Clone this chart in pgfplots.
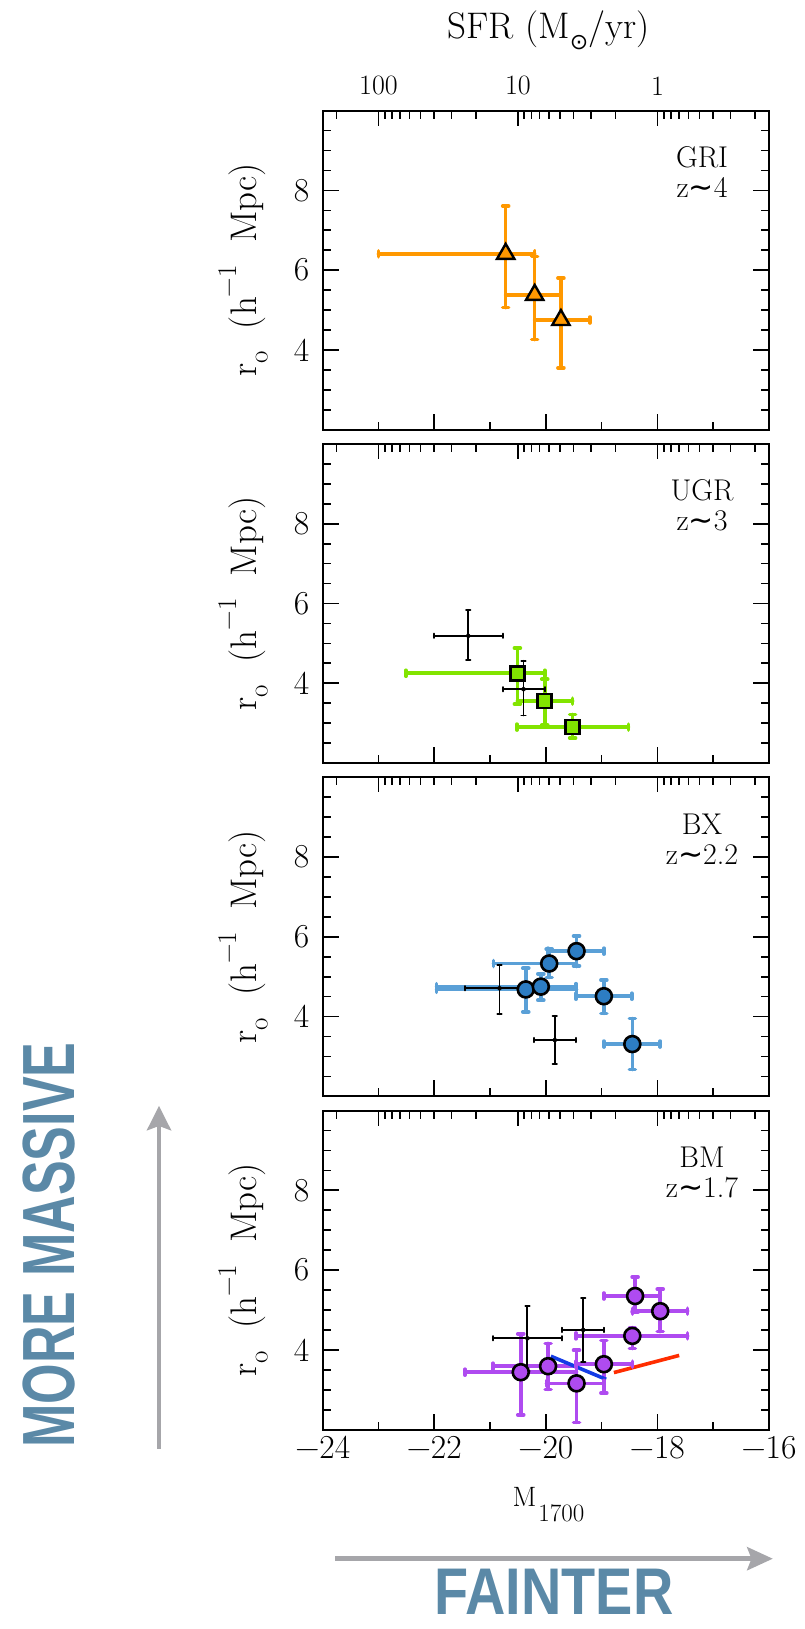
\documentclass[border=0pt]{standalone}
\usepackage{pgfplots}
\pgfplotsset{compat=1.18}
\usepackage{pgfplotstable}
\usepackage{fontspec}
\usepackage{graphicx}
\newfontfamily\dejavu{DejaVu Sans}
\newfontfamily\libsans{Liberation Sans}
\definecolor{orangeC}{RGB}{255,152,0}
\definecolor{greenC}{RGB}{130,228,0}
\definecolor{blueBar}{RGB}{90,160,215}
\definecolor{blueFill}{RGB}{45,125,195}
\definecolor{purpC}{RGB}{175,75,240}
\definecolor{lineBlue}{RGB}{20,60,230}
\definecolor{lineRed}{RGB}{255,45,0}
\definecolor{steel}{RGB}{91,137,167}
\definecolor{arrowgray}{RGB}{166,166,170}

% x y xm xp ym yp
\pgfplotstableread{
x y xm xp ym yp
-20.72 6.41 2.28 0.52 1.35 1.20
-20.20 5.38 0.52 0.47 1.12 0.96
-19.73 4.75 0.47 0.52 1.20 1.05
}\gri
\pgfplotstableread{
x y xm xp ym yp
-20.51 4.25 2.00 0.49 0.77 0.63
-20.02 3.55 0.49 0.50 0.60 0.55
-19.52 2.90 1.00 1.00 0.27 0.32
}\ugr
\pgfplotstableread{
x y xm xp ym yp
-21.39 5.19 0.62 0.62 0.60 0.65
-20.40 3.85 0.37 0.38 0.66 0.71
}\ugrK
\pgfplotstableread{
x y xm xp ym yp
-20.36 4.68 1.60 0.91 0.56 0.53
-20.09 4.75 1.87 0.63 0.34 0.32
-19.94 5.33 1.00 0.49 0.35 0.36
-19.45 5.64 0.51 0.49 0.37 0.38
-18.96 4.51 0.50 0.50 0.43 0.41
-18.45 3.31 0.51 0.50 0.64 0.64
}\bx
\pgfplotstableread{
x y xm xp ym yp
-20.83 4.71 0.62 0.46 0.65 0.58
-19.84 3.41 0.37 0.38 0.59 0.61
}\bxK
\pgfplotstableread{
x y xm xp ym yp
-20.45 3.44 1.00 1.00 1.07 0.96
-19.96 3.59 0.99 0.51 0.58 0.57
-19.45 3.16 0.54 0.49 0.98 0.83
-18.96 3.64 0.50 0.51 0.72 0.59
-18.45 4.35 1.01 0.99 0.32 0.21
-18.40 5.35 0.56 0.45 0.40 0.48
-17.95 4.97 0.50 0.49 0.51 0.55
}\bm
\pgfplotstableread{
x y xm xp ym yp
-20.33 4.29 0.62 0.62 0.81 0.81
-19.33 4.50 0.38 0.37 0.80 0.79
}\bmK
\pgfplotstableread{
x y
-19.91 3.84
-18.92 3.26
}\bline
\pgfplotstableread{
x y
-18.78 3.43
-17.61 3.86
}\rline

\pgfplotsset{
 panel/.style={scale only axis, width=446.3pt, height=319pt, anchor=south west,
   xmin=-24, xmax=-16, ymin=2, ymax=10,
   axis line style={line width=1.9pt},
   tick style={line width=1.7pt, black},
   xtick={-24,-22,-20,-18,-16}, minor xtick={-23,-21,-19,-17},
   ytick={4,6,8}, yticklabels={4,6,8}, minor ytick={2.5,3,...,9.5},
   xtick pos=left, ytick pos=both, yticklabel pos=left,
   tick align=inside, major tick length=16pt, minor tick length=8pt,
   xticklabels={},
   yticklabel style={font=\fontsize{33.5}{34}\selectfont, xshift=-10pt},
   clip=false},
 toppanel/.style={scale only axis, width=446.3pt, height=319pt, anchor=south west,
   x dir=reverse, xmin=0.158489, xmax=251.189, ymin=2, ymax=10,
   axis x line*=top, axis y line=none,
   axis line style={line width=1.9pt},
   tick style={line width=1.7pt, black},
   xtick={1,10,100},
   minor xtick={0.2,0.3,0.4,0.5,0.6,0.7,0.8,0.9,2,3,4,5,6,7,8,9,20,30,40,50,60,70,80,90,200},
   tick align=inside, major tick length=15pt, minor tick length=8pt,
   xticklabels={}},
 ebar/.style n args={2}{only marks, mark=none,
   error bars/.cd, x dir=both, x explicit, y dir=both, y explicit,
   error bar style={line width=#2, color=#1, line cap=round}},
}
\tikzset{lbl/.style={font=\fontsize{30}{31}\selectfont, anchor=base}}

% error bars + end caps (caps placed at the error-bar ends taken from the table columns)
\newcommand{\errbars}[4]{%
 \addplot[ebar={#2}{#3}] table[x=x, y=y, x error plus=xp, x error minus=xm, y error plus=yp, y error minus=ym]{#1};
 \addplot[only marks, mark=|, mark size=#4, mark options={draw=#2, line width=#3, line cap=round}] table[x expr=\thisrow{x}-\thisrow{xm}, y=y]{#1};
 \addplot[only marks, mark=|, mark size=#4, mark options={draw=#2, line width=#3, line cap=round}] table[x expr=\thisrow{x}+\thisrow{xp}, y=y]{#1};
 \addplot[only marks, mark=-, mark size=#4, mark options={draw=#2, line width=#3, line cap=round}] table[x=x, y expr=\thisrow{y}-\thisrow{ym}]{#1};
 \addplot[only marks, mark=-, mark size=#4, mark options={draw=#2, line width=#3, line cap=round}] table[x=x, y expr=\thisrow{y}+\thisrow{yp}]{#1};
}

\begin{document}
\begin{tikzpicture}[x=1pt,y=1pt]
\useasboundingbox (0,0) rectangle (805,1629);

% ---------- panel 1 : GRI
\begin{axis}[panel, at={(322.7pt,1199.3pt)}]
 \errbars{\gri}{orangeC}{3.6pt}{3pt}
 \addplot[only marks, mark=triangle*, mark size=10pt, mark options={fill=orangeC, draw=black, line width=2.4pt}] table[x=x,y=y]{\gri};
 \node[lbl] at (axis cs:-17.2,8.576) {GRI};
 \node[lbl] at (axis cs:-17.2,7.825) {z{\dejavu ∼}4};
\end{axis}
\begin{semilogxaxis}[toppanel, at={(322.7pt,1199.3pt)}, xticklabels={1,10,100},
  xticklabel style={font=\fontsize{28}{29}\selectfont, yshift=12pt}]
 \addplot[draw=none] coordinates {(1,5)};
\end{semilogxaxis}

% ---------- panel 2 : UGR
\begin{axis}[panel, at={(322.7pt,866pt)}]
 \errbars{\ugr}{greenC}{3.6pt}{3pt}
 \errbars{\ugrK}{black}{1.9pt}{2.2pt}
 \addplot[only marks, mark=square*, mark size=7pt, mark options={fill=greenC, draw=black, line width=2.6pt}] table[x=x,y=y]{\ugr};
 \node[lbl] at (axis cs:-17.2,8.576) {UGR};
 \node[lbl] at (axis cs:-17.2,7.825) {z{\dejavu ∼}3};
\end{axis}
\begin{semilogxaxis}[toppanel, at={(322.7pt,866pt)}]
 \addplot[draw=none] coordinates {(1,5)};
\end{semilogxaxis}

% ---------- panel 3 : BX
\begin{axis}[panel, at={(322.7pt,532.7pt)}]
 \errbars{\bx}{blueBar}{3.6pt}{3pt}
 \errbars{\bxK}{black}{1.9pt}{2.2pt}
 \addplot[only marks, mark=*, mark size=8pt, mark options={fill=blueFill, draw=black, line width=2.6pt}] table[x=x,y=y]{\bx};
 \node[lbl] at (axis cs:-17.2,8.576) {BX};
 \node[lbl] at (axis cs:-17.2,7.825) {z{\dejavu ∼}2.2};
\end{axis}
\begin{semilogxaxis}[toppanel, at={(322.7pt,532.7pt)}]
 \addplot[draw=none] coordinates {(1,5)};
\end{semilogxaxis}

% ---------- panel 4 : BM
\begin{axis}[panel, at={(322.7pt,199.4pt)},
  xticklabels={−24,−22,−20,−18,−16},
  xticklabel style={font=\fontsize{33.5}{34}\selectfont, yshift=-3pt}]
 \errbars{\bm}{purpC}{3.6pt}{3pt}
 \errbars{\bmK}{black}{1.9pt}{2.2pt}
 \addplot[lineBlue, line width=3.6pt, no marks] table[x=x,y=y]{\bline};
 \addplot[lineRed, line width=3.6pt, no marks] table[x=x,y=y]{\rline};
 \addplot[only marks, mark=*, mark size=8pt, mark options={fill=purpC, draw=black, line width=2.6pt}] table[x=x,y=y]{\bm};
 \node[lbl] at (axis cs:-17.2,8.576) {BM};
 \node[lbl] at (axis cs:-17.2,7.825) {z{\dejavu ∼}1.7};
\end{axis}
\begin{semilogxaxis}[toppanel, at={(322.7pt,199.4pt)}]
 \addplot[draw=none] coordinates {(1,5)};
\end{semilogxaxis}

% ---------- axis titles
\node[anchor=base, font=\fontsize{37}{38}\selectfont] at (548.5,1590.6)
  {SFR (M\raisebox{-0.3em}{\fontsize{22}{22}\selectfont\dejavu ⊙}/yr)};
\foreach \yc in {1358.8,1025.5,692.2,358.9}{
  \node[rotate=90, font=\fontsize{37}{38}\selectfont] at (243,\yc)
   {r\raisebox{-0.3em}{\fontsize{27}{27}\selectfont o}\ \ (h\raisebox{0.55em}{\fontsize{27}{27}\selectfont −1}\ \ Mpc)};
}
\node[anchor=base west, font=\fontsize{28}{29}\selectfont] at (509,122.3)
  {M\hspace{2pt}\raisebox{-15pt}{\fontsize{25}{25}\selectfont 1700}};

% ---------- annotations
\fill[arrowgray] (156.7,180) rectangle (161.3,505);
\fill[arrowgray] (159,523) -- (146.5,498.3) -- (159,503) -- (171.5,498.3) -- cycle;
\fill[arrowgray] (335,68) rectangle (755,72.6);
\fill[arrowgray] (772.7,70.3) -- (746.7,82.3) -- (751.5,70.3) -- (746.7,58.3) -- cycle;
\node[rotate=90, anchor=base, text=steel] at (74,384)
  {\scalebox{0.704}[1]{\fontsize{74}{76}\selectfont\libsans\bfseries MORE MASSIVE}};
\node[anchor=base, text=steel] at (554,14)
  {\scalebox{0.846}[1]{\fontsize{66}{68}\selectfont\libsans\bfseries FAINTER}};
\end{tikzpicture}
\end{document}
